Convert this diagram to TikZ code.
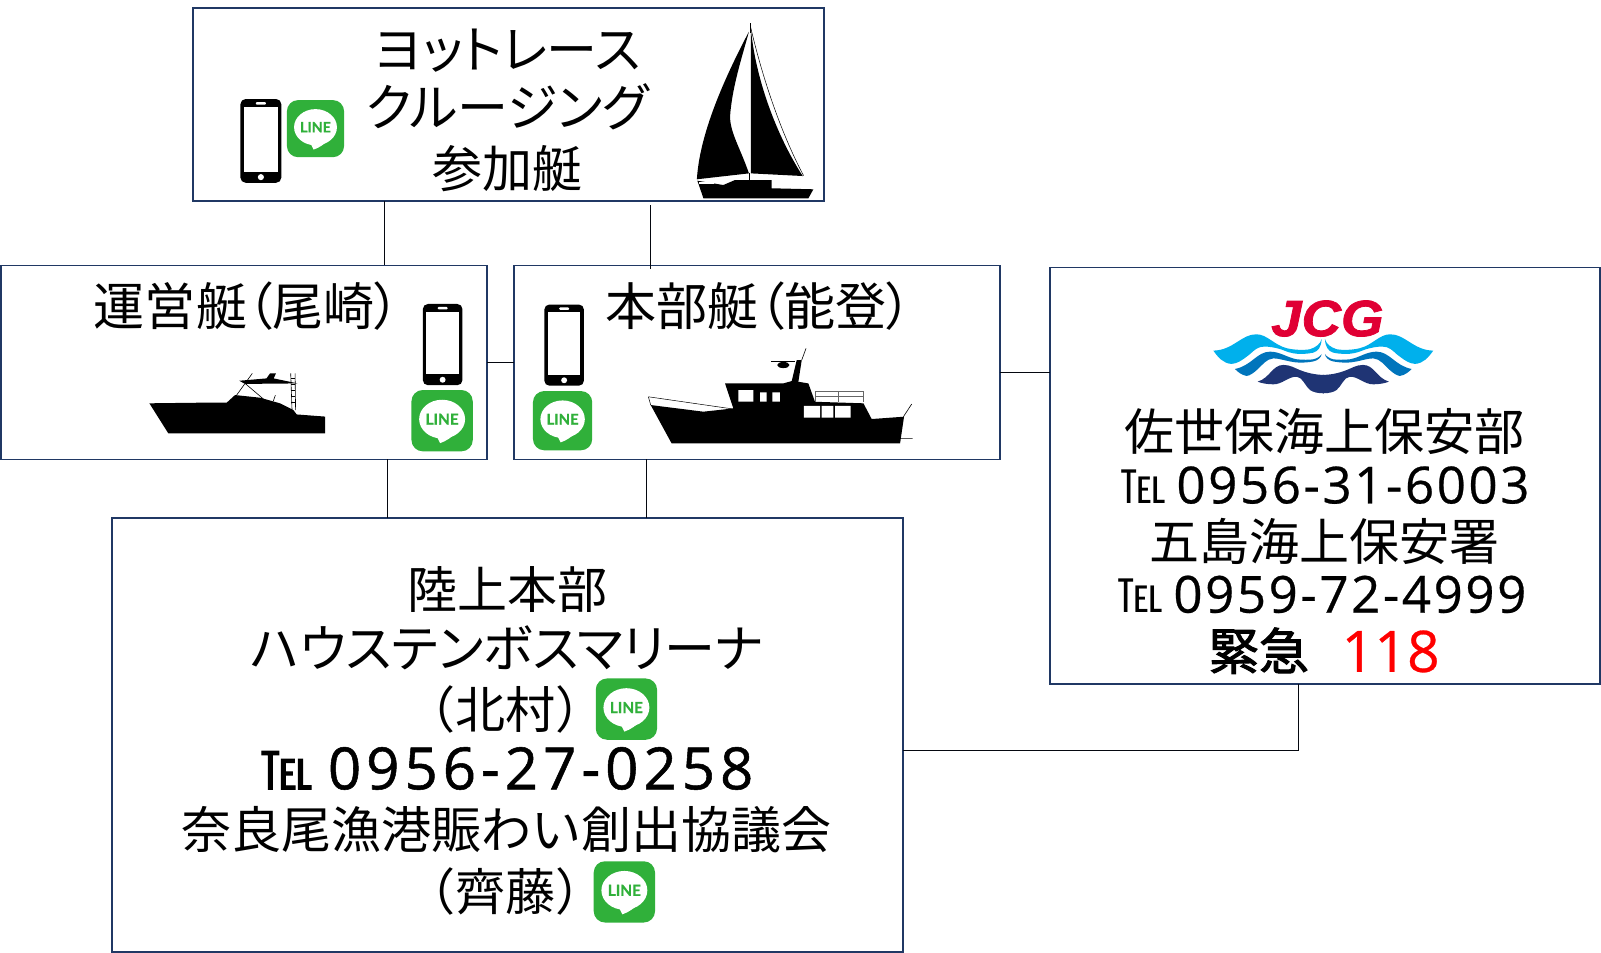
\documentclass[tikz,border=0pt]{standalone}
\usepackage{fontspec}
\setmainfont{Noto Sans CJK JP}
\newfontfamily\kanafont[RawFeature=+palt]{Noto Sans CJK JP}
\newfontfamily\medfont[FakeBold=2]{Noto Sans CJK JP}
\newfontfamily\numfont[LetterSpace=5,FakeBold=0.5]{Open Sans}
\newfontfamily\numbigfont[LetterSpace=8.6,FakeBold=0.9]{Open Sans}
\newfontfamily\redfont[FakeBold=0.5]{Open Sans}
\newfontfamily\iconfont[FakeBold=1]{Lato}
\newfontfamily\logofont[FakeBold=1.5]{Liberation Sans}
\definecolor{boxnavy}{HTML}{203864}
\definecolor{linegreen}{HTML}{30B03A}
\definecolor{logored}{HTML}{E00034}
\definecolor{wavelight}{HTML}{00B0EC}
\definecolor{wavemid}{HTML}{0075BC}
\definecolor{wavedark}{HTML}{1F3474}
\tikzset{
  panel/.style={draw=boxnavy, line width=1.8pt, rectangle, anchor=north west, inner sep=0pt, outer sep=0pt},
  link/.style={draw=black!85!boxnavy, line width=0.8pt},
  txt/.style={inner sep=0pt, text height=38pt, text depth=0pt, font=\fontsize{49}{49}\selectfont},
  kana/.style={txt, font=\kanafont\fontsize{50}{50}\selectfont},
  num/.style={txt, anchor=west, font=\numfont\fontsize{50}{50}\selectfont},
  telmark/.style={txt, anchor=west, font=\fontsize{45}{45}\selectfont},
  phone/.pic={
    \fill[black, rounded corners=5pt] (-20,-41) rectangle (20,41);
    \fill[white] (-16.5,-33) rectangle (16.5,30);
    \fill[white, rounded corners=1pt] (-5,-38) rectangle (5,-35.5);
    \fill[white] (0,35.5) circle (3);
  },
  lineicon/.pic={
    \fill[linegreen, rounded corners=11pt] (-30,-30) rectangle (30,30);
    \fill[white] (0,-1.5) ellipse (22.5 and 19);
    \fill[white] (-6,14) -- (-2,22) .. controls (4,20) and (10,16) .. (14,11) -- cycle;
    \node[transform shape, inner sep=0pt, text=linegreen, font=\iconfont\bfseries\fontsize{15}{15}\selectfont] (word) at (0,-1.5) {LINE};
  },
}
\begin{document}
\begin{tikzpicture}[x=1pt, y=-1pt]
    \useasboundingbox (0,0) rectangle (1568,933);

    % boxes
    \node[panel, minimum width=618pt, minimum height=189pt] (fleet) at (189,8) {};
    \node[panel, minimum width=476pt, minimum height=190pt] (ops) at (1,260) {};
    \node[panel, minimum width=476pt, minimum height=190pt] (hq) at (503,260) {};
    \node[panel, minimum width=539pt, minimum height=408pt] (coast) at (1028,262) {};
    \node[panel, minimum width=774pt, minimum height=425pt] (ground) at (110,507) {};

    % connectors
    \coordinate (c1) at (376,230);
    \coordinate (c2) at (637,201);
    \coordinate (c3) at (637,263);
    \coordinate (c4) at (379,480);
    \coordinate (c5) at (633,480);
    \coordinate (c6) at (700,355);
    \coordinate (c7) at (700,365);
    \coordinate (c8) at (1272,735);
    \draw[link] (fleet.south -| c1) -- (ops.north -| c1);
    \draw[link] (c2) -- (c3);
    \draw[link] (ops.east |- c6) -- (hq.west |- c6);
    \draw[link] (hq.east |- c7) -- (coast.west |- c7);
    \draw[link] (ops.south -| c4) -- (ground.north -| c4);
    \draw[link] (hq.south -| c5) -- (ground.north -| c5);
    \draw[link] (ground.east |- c8) -- (c8) -- (coast.south -| c8);

    % top box
    \node[kana] (t1) at (497,48) {ヨットレース};
    \node[kana] (t2) at (497,105) {クルージング};
    \node[txt] (t3) at (497,165) {参加艇};
    \pic (ph1) at (255.5,138) {phone};
    \pic[scale=0.933] (li1) at (309,126) {lineicon};

    % sailboat
    \fill (733.5,31) .. controls (705,85) and (685,135) .. (682.5,175.6) -- (733.5,169.8) .. controls (725,145) and (715,130) .. (715,114) .. controls (717,85) and (727,55) .. cycle;
    \fill (735.5,29) .. controls (741,85) and (765,140) .. (786.2,172.4) -- (735.5,169.8) -- cycle;
    \draw[line width=0.8pt] (734.5,23) -- (734.5,32) (734,169) -- (734,177);
    \draw[line width=0.5pt] (735,26) .. controls (750,90) and (770,140) .. (787,172);
    \fill (683,177) -- (688.9,194.2) -- (791.7,194.2) -- (796.6,185.4) -- (755.8,184.4) -- (755.8,176.3) -- (719.9,176.3) -- (708.4,181.2) -- cycle;
    \fill[white] (684.5,178) rectangle (699,180.3);

    % left box
    \node[kana] (ops1) at (242,300) {運営艇（尾崎）};
    \pic[scale=0.97] (ph2) at (433.5,337.5) {phone};
    \pic (li2) at (433,412) {lineicon};
    \fill (146.3,395) -- (164.9,424.5) -- (318.3,424.5) -- (318.3,408) -- (290.6,405.9) -- (287.3,401.6) -- (274.2,395) -- (254.7,389.5) -- (230.2,386.9) -- (222,394.4) -- (195.9,394.4) -- cycle;
    \fill (234.4,372.9) -- (261,370.6) -- (264.5,365.7) -- (270.3,365.7) -- (268,370.6) -- (291.5,375.5) -- (240,376) -- cycle;
    \draw[line width=0.6pt] (231.8,386.9) -- (247.1,365.7) (240,375.5) -- (258,390.8) (267.7,392.8) -- (269.7,387);
    \draw[line width=0.6pt] (284.7,365.7) -- (286,401.6) (289,365.7) -- (289.5,401.6);
    \foreach \yy in {370,376,382,388,394} {
        \draw[line width=0.5pt] (285,\yy) -- (289.3,\yy);
    }

    % middle box
    \node[kana] (hq1) at (743,300) {本部艇（能登）};
    \pic[scale=0.97] (ph3) at (552.5,338) {phone};
    \pic[scale=0.967] (li3) at (551,412) {lineicon};
    \fill (637.3,396.7) -- (657.8,434.3) -- (881.5,434.3) -- (885.4,408.1) -- (853.7,410.4) -- (845.6,395) -- (798.2,393.5) -- (791.7,375.5) -- (781.9,373.9) -- (785.2,352.6) -- (780.3,352.6) -- (775.4,373.2) -- (767.2,375.5) -- (710.1,375.5) -- (718.2,400) -- (688.9,403.2) -- cycle;
    \fill[white] (723.1,382) rectangle (737.8,393.4) (744.4,384.3) rectangle (750.9,393.4) (756.4,384.3) rectangle (763.9,393.4);
    \fill[white] (787.4,397.4) rectangle (803.1,409.1) (804.8,397.4) rectangle (816.2,409.1) (817.8,397.4) rectangle (833.2,409.1);
    \draw[line width=0.5pt] (635,388.6) -- (637.3,396.7) (635,388.6) -- (718.2,400.6);
    \draw[line width=0.4pt, black!60] (798.2,383.6) -- (845.6,383.6) -- (845.6,393.5) (821,383.6) -- (821,393.5) (798.2,383.6) -- (798.2,393.5) (798.2,388.5) -- (845.6,388.5);
    \draw[line width=0.6pt] (884.8,408.1) -- (892.9,395.7) (881.5,429.4) -- (893.9,429.4) (785.2,352.6) -- (789.4,341.2);
    \draw[line width=1pt] (755,354.3) -- (778.6,354.3);
    \fill (767.2,357.5) ellipse (6 and 3);

    % coast guard logo
    \foreach \s in {1,-1} {
        \begin{scope}[shift={(1296,0)}, xscale=\s]
            \fill[wavelight] (-107.7,343.4) .. controls (-88,343) and (-80,327) .. (-65.3,327.4) .. controls (-55,327.5) and (-48,338) .. (-35.9,341) .. controls (-28,343) and (-18,343) .. (-13,342) .. controls (-7,340) and (-3,337) .. (-1.6,332) .. controls (-2,340) and (-5,344) .. (-9.8,345.4) .. controls (-18,347) and (-24,347) .. (-29.4,346) .. controls (-36,345) and (-40,342) .. (-45.7,341) .. controls (-52,339.5) and (-57,339) .. (-62,340) .. controls (-68,342) and (-70,346) .. (-75,349.3) .. controls (-80,353) and (-84,356) .. (-89.8,356.4) .. controls (-98,356) and (-103,350) .. cycle;
            \fill[wavemid] (-86.5,361.4) .. controls (-70,358) and (-65,344.5) .. (-52.2,344.4) .. controls (-42,344.5) and (-36,350) .. (-26,351.9) .. controls (-20,352.5) and (-14,352.5) .. (-9.8,351.9) .. controls (-6,351) and (-3,349) .. (-1.6,346.7) .. controls (-2,350) and (-5,353) .. (-9.8,354) .. controls (-18,355.5) and (-26,355.5) .. (-32.6,354) .. controls (-40,352.5) and (-44,351) .. (-49,351) .. controls (-56,351.5) and (-60,358) .. (-65,362.3) .. controls (-68,365) and (-72,368) .. (-75,368.2) .. controls (-80,367.5) and (-84,364) .. cycle;
            \fill[wavedark] (-64.3,373.8) .. controls (-52,370) and (-50,357.5) .. (-39,357.4) .. controls (-32,357.5) and (-28,360.5) .. (-23,362.4) .. controls (-15,365.5) and (-8,367) .. (0.5,367.2) -- (0.5,385.2) .. controls (-6,385.2) and (-10,384) .. (-13,382) .. controls (-18,378) and (-20,369.5) .. (-26,369) .. controls (-34,368.5) and (-40,376.5) .. (-49,376.4) .. controls (-55,376.3) and (-60,375.5) .. cycle;
        \end{scope}
    }
    \node[inner sep=0pt, text=logored, xscale=1.07, font=\logofont\bfseries\itshape\fontsize{50}{50}\selectfont] (jcg) at (1300,312) {JCG};

    % right box
    \node[txt] (co1) at (1297,422) {佐世保海上保安部};
    \node[telmark] (co2a) at (1097,474) {℡};
    \node[num] (co2b) at (1152,474) {0956-31-6003};
    \node[txt] (co3) at (1297,530) {五島海上保安署};
    \node[telmark] (co4a) at (1094,581) {℡};
    \node[num] (co4b) at (1149,581) {0959-72-4999};
    \node[txt, font=\medfont\fontsize{49}{49}\selectfont] (co5a) at (1233,637) {緊急};
    \node[txt, text=red, font=\redfont\fontsize{56}{56}\selectfont] (co5b) at (1362,639) {118};

    % bottom box
    \node[txt] (gr1) at (497,577) {陸上本部};
    \node[kana] (gr2) at (497,635) {ハウステンボスマリーナ};
    \node[txt] (gr3) at (495,694) {（北村）};
    \pic (li4) at (613.5,694.5) {lineicon};
    \node[txt, anchor=west, font=\medfont\fontsize{51}{51}\selectfont] (gr4a) at (255,754) {℡};
    \node[txt, anchor=west, font=\numbigfont\fontsize{57}{57}\selectfont] (gr4b) at (321,754) {0956-27-0258};
    \node[txt] (gr5) at (496,812) {奈良尾漁港賑わい創出協議会};
    \node[txt] (gr6) at (495,873) {（齊藤）};
    \pic (li5) at (611.5,873.5) {lineicon};
\end{tikzpicture}
\end{document}
